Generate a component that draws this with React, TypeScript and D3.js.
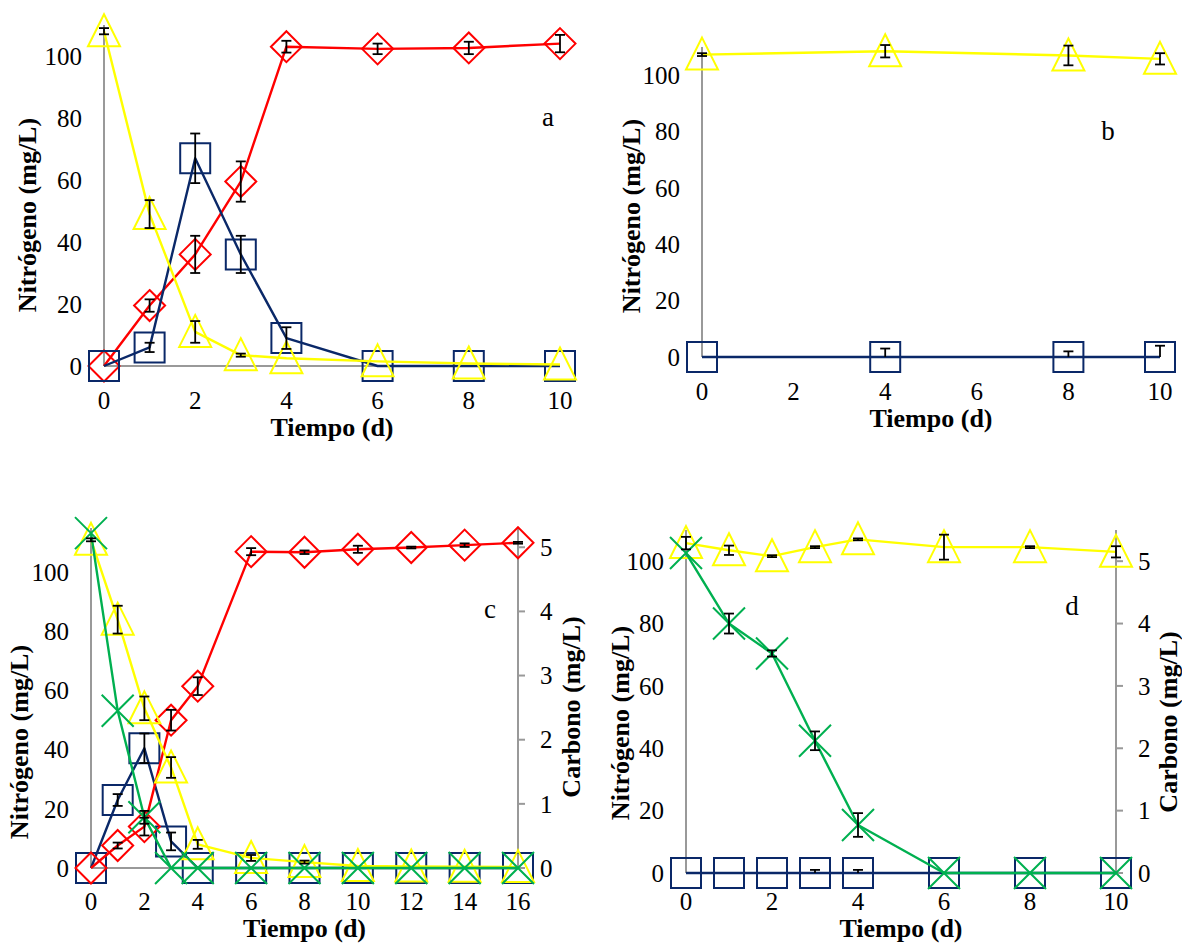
import React from 'react';
import * as d3 from 'd3';

// ---- Data ----
// Panel a
const tA = [0, 1, 2, 3, 4, 6, 8, 10];
const amonioA = [108, 49, 11, 3.5, 2.5, 1.5, 0.8, 0.5];
const amonioAErr = [1, 4.5, 3.5, 0.5, 0, 0, 0, 0];
const nitritoA = [0, 6, 67, 36, 9, 0, 0, 0];
const nitritoAErr = [0, 1.5, 8, 6, 3.5, 0, 0, 0];
const nitratoA = [0, 19.5, 36, 59.5, 103, 102.3, 102.6, 104];
const nitratoAErr = [0, 2, 6, 6.5, 1.9, 1.7, 2, 2.8];

// Panel b
const tB = [0, 4, 8, 10];
const amonioB = [107.3, 108.5, 107, 105.8];
const amonioBErr = [0.5, 2.2, 3.5, 2];
const nitritoB = [0, 0, 0, 0];
const nitritoBErr = [0, 3, 2, 4];

// Panel c
const tC = [0, 1, 2, 3, 4, 6, 8, 10, 12, 14, 16];
const amonioC = [111, 84, 54, 34, 8, 3.4, 2, 0.7, 0.5, 0.4, 0.3];
const amonioCErr = [0.5, 4.7, 4, 3.5, 1.5, 1, 0.5, 0, 0, 0, 0];
const nitritoC = [0, 23, 40.5, 9, 0, 0, 0, 0, 0, 0, 0];
const nitritoCErr = [0, 2, 5, 3, 0, 0, 0, 0, 0, 0, 0];
const nitratoC = [0, 7.6, 14, 50, 61.5, 107, 106.8, 107.8, 108.4, 109.2, 110];
const nitratoCErr = [0, 1, 3, 3.5, 3, 1.2, 0.6, 1.2, 0.3, 0.6, 0.3];
const carbonoC = [5.22, 2.45, 0.79, 0, 0, 0, 0, 0, 0, 0, 0];
const carbonoCErr = [0, 0, 0.1, 0, 0, 0, 0, 0, 0, 0, 0];

// Panel d
const tD = [0, 1, 2, 3, 4, 6, 8, 10];
const amonioD = [105.8, 103.5, 101.6, 104.5, 107, 104.5, 104.5, 103];
const amonioDErr = [2, 1.5, 0.3, 0.3, 0.3, 4, 0.3, 1.8];
const nitritoD = [0, 0, 0, 0, 0, 0, 0, 0];
const nitritoDErr = [0, 0, 0, 1, 1, 0, 0, 0];
const carbonoD = [5.13, 4.0, 3.52, 2.12, 0.77, 0, 0, 0];
const carbonoDErr = [0, 0.16, 0.05, 0.15, 0.19, 0, 0, 0];

const ticksX10 = [0, 2, 4, 6, 8, 10];
const ticksX16 = [0, 2, 4, 6, 8, 10, 12, 14, 16];
const ticksN = [0, 20, 40, 60, 80, 100];
const ticksC = [0, 1, 2, 3, 4, 5];

const yTitle = 'Nitrógeno (mg/L)';
const y2Title = 'Carbono (mg/L)';
const xTitle = 'Tiempo (d)';

// ---- Styling ----
const NAVY = '#0a2868';
const RED = '#ff0000';
const YELLOW = '#ffff00';
const GREEN = '#00b050';
const AXIS = '#999999';
const FONT = 'Liberation Serif, Tinos, DejaVu Serif, serif';
const tickStyle: React.CSSProperties = { fontFamily: FONT, fontSize: 25 };
const titleStyle: React.CSSProperties = { fontFamily: FONT, fontSize: 26, fontWeight: 'bold' };

type MarkerKind = 'square' | 'diamond' | 'triangle' | 'x';
type Series = {
  t: number[];
  v: number[];
  e: number[];
  color: string;
  marker: MarkerKind;
  axis: 'left' | 'right';
};
type Panel = {
  x0: number; x1: number; xMax: number; xTicks: number[];
  yBottom: number; yTop: number; leftMax: number; rightMax?: number;
  series: Series[];
  letter: string; letterX: number; letterY: number;
  yTitleX: number; yTitleY: number;
  y2TitleX?: number; y2TitleY?: number;
};

const markerPath: Record<MarkerKind, string> = {
  square: 'M-15,-15H15V15H-15Z',
  diamond: 'M0,-15.5L15.5,0L0,15.5L-15.5,0Z',
  triangle: 'M0,-17L16,15L-16,15Z',
  x: 'M-16,-16L16,16M-16,16L16,-16',
};

const panels: Panel[] = [
  {
    x0: 104, x1: 560, xMax: 10, xTicks: ticksX10,
    yBottom: 366, yTop: 25, leftMax: 110,
    series: [
      { t: tA, v: nitratoA, e: nitratoAErr, color: RED, marker: 'diamond', axis: 'left' },
      { t: tA, v: nitritoA, e: nitritoAErr, color: NAVY, marker: 'square', axis: 'left' },
      { t: tA, v: amonioA, e: amonioAErr, color: YELLOW, marker: 'triangle', axis: 'left' },
    ],
    letter: 'a', letterX: 548, letterY: 126,
    yTitleX: 27, yTitleY: 215,
  },
  {
    x0: 702, x1: 1160, xMax: 10, xTicks: ticksX10,
    yBottom: 357, yTop: 47, leftMax: 110,
    series: [
      { t: tB, v: amonioB, e: amonioBErr, color: YELLOW, marker: 'triangle', axis: 'left' },
      { t: tB, v: nitritoB, e: nitritoBErr, color: NAVY, marker: 'square', axis: 'left' },
    ],
    letter: 'b', letterX: 1108, letterY: 140,
    yTitleX: 631, yTitleY: 216,
  },
  {
    x0: 91, x1: 518, xMax: 16, xTicks: ticksX16,
    yBottom: 868, yTop: 528, leftMax: 115, rightMax: 5.3,
    series: [
      { t: tC, v: nitritoC, e: nitritoCErr, color: NAVY, marker: 'square', axis: 'left' },
      { t: tC, v: nitratoC, e: nitratoCErr, color: RED, marker: 'diamond', axis: 'left' },
      { t: tC, v: amonioC, e: amonioCErr, color: YELLOW, marker: 'triangle', axis: 'left' },
      { t: tC, v: carbonoC, e: carbonoCErr, color: GREEN, marker: 'x', axis: 'right' },
    ],
    letter: 'c', letterX: 490, letterY: 618,
    yTitleX: 19, yTitleY: 742,
    y2TitleX: 571, y2TitleY: 707,
  },
  {
    x0: 686, x1: 1116, xMax: 10, xTicks: ticksX10,
    yBottom: 873, yTop: 530, leftMax: 110, rightMax: 5.5,
    series: [
      { t: tD, v: nitritoD, e: nitritoDErr, color: NAVY, marker: 'square', axis: 'left' },
      { t: tD, v: amonioD, e: amonioDErr, color: YELLOW, marker: 'triangle', axis: 'left' },
      { t: tD, v: carbonoD, e: carbonoDErr, color: GREEN, marker: 'x', axis: 'right' },
    ],
    letter: 'd', letterX: 1072, letterY: 615,
    yTitleX: 620, yTitleY: 723,
    y2TitleX: 1168, y2TitleY: 722,
  },
];

function PanelChart({ p }: { p: Panel }) {
  const x = d3.scaleLinear().domain([0, p.xMax]).range([p.x0, p.x1]);
  const yL = d3.scaleLinear().domain([0, p.leftMax]).range([p.yBottom, p.yTop]);
  const yR = p.rightMax
    ? d3.scaleLinear().domain([0, p.rightMax]).range([p.yBottom, p.yTop])
    : yL;
  const yOf = (s: Series) => (s.axis === 'right' ? yR : yL);
  // keep the bottom row of labels and the axis title inside the page
  const tickY = Math.min(p.yBottom + 34, 901);
  const xTitleY = Math.min(p.yBottom + 61, 928);

  return (
    <g>
      {/* axes */}
      <line x1={p.x0} x2={p.x0} y1={p.yTop} y2={p.yBottom} stroke={AXIS} strokeWidth={2} />
      <line x1={p.x0} x2={p.x1} y1={p.yBottom} y2={p.yBottom} stroke={AXIS} strokeWidth={2} />
      {p.rightMax && (
        <g>
          <line x1={p.x1} x2={p.x1} y1={p.yTop} y2={p.yBottom} stroke={AXIS} strokeWidth={2} />
          {ticksC.map((tk) => (
            <g key={tk}>
              <line x1={p.x1} x2={p.x1 + 7} y1={yR(tk)} y2={yR(tk)} stroke={AXIS} strokeWidth={2} />
              <text x={p.x1 + 22} y={yR(tk)} dy="0.35em" style={tickStyle}>{tk}</text>
            </g>
          ))}
        </g>
      )}
      {ticksN.map((tk) => (
        <text key={tk} x={p.x0 - 22} y={yL(tk)} dy="0.35em" textAnchor="end" style={tickStyle}>{tk}</text>
      ))}
      {p.xTicks.map((tk) => (
        <text key={tk} x={x(tk)} y={tickY} dy="0.35em" textAnchor="middle" style={tickStyle}>{tk}</text>
      ))}
      <text x={(p.x0 + p.x1) / 2} y={xTitleY} dy="0.35em" textAnchor="middle" style={titleStyle}>{xTitle}</text>
      <text transform={`translate(${p.yTitleX},${p.yTitleY}) rotate(-90)`} dy="0.35em" textAnchor="middle" style={titleStyle}>{yTitle}</text>
      {p.y2TitleX !== undefined && (
        <text transform={`translate(${p.y2TitleX},${p.y2TitleY}) rotate(-90)`} dy="0.35em" textAnchor="middle" style={titleStyle}>{y2Title}</text>
      )}
      <text x={p.letterX} y={p.letterY} textAnchor="middle" style={{ fontFamily: FONT, fontSize: 27 }}>{p.letter}</text>

      {/* series */}
      {p.series.map((s, i) => {
        const ys = yOf(s);
        const line = d3.line<number>().x((_, j) => x(s.t[j])).y((d) => ys(d));
        return (
          <g key={i}>
            <path d={line(s.v) || ''} fill="none" stroke={s.color} strokeWidth={2.4} strokeLinejoin="round" />
            {s.v.map((d, j) => (
              <path key={j} d={markerPath[s.marker]} transform={`translate(${x(s.t[j])},${ys(d)})`} fill="none" stroke={s.color} strokeWidth={2} />
            ))}
          </g>
        );
      })}

      {/* error bars */}
      {p.series.map((s, i) => {
        const ys = yOf(s);
        return (
          <g key={'e' + i} stroke="#000" strokeWidth={1.8}>
            {s.v.map((d, j) => {
              const e = s.e[j];
              if (!e) return null;
              const cx = x(s.t[j]);
              const lo = Math.max(0, d - e);
              const yHi = ys(d + e);
              const yLo = ys(lo);
              return (
                <g key={j}>
                  <line x1={cx} x2={cx} y1={yHi} y2={yLo} />
                  <line x1={cx - 5} x2={cx + 5} y1={yHi} y2={yHi} />
                  {d - e >= 0 && <line x1={cx - 5} x2={cx + 5} y1={yLo} y2={yLo} />}
                </g>
              );
            })}
          </g>
        );
      })}
    </g>
  );
}

export default function App() {
  return (
    <svg width={1182} height={945} style={{ display: 'block', position: 'absolute', left: 0, top: 0, background: '#fff' }}>
      <rect width={1182} height={945} fill="#fff" />
      {panels.map((p, i) => (
        <PanelChart key={i} p={p} />
      ))}
    </svg>
  );
}
